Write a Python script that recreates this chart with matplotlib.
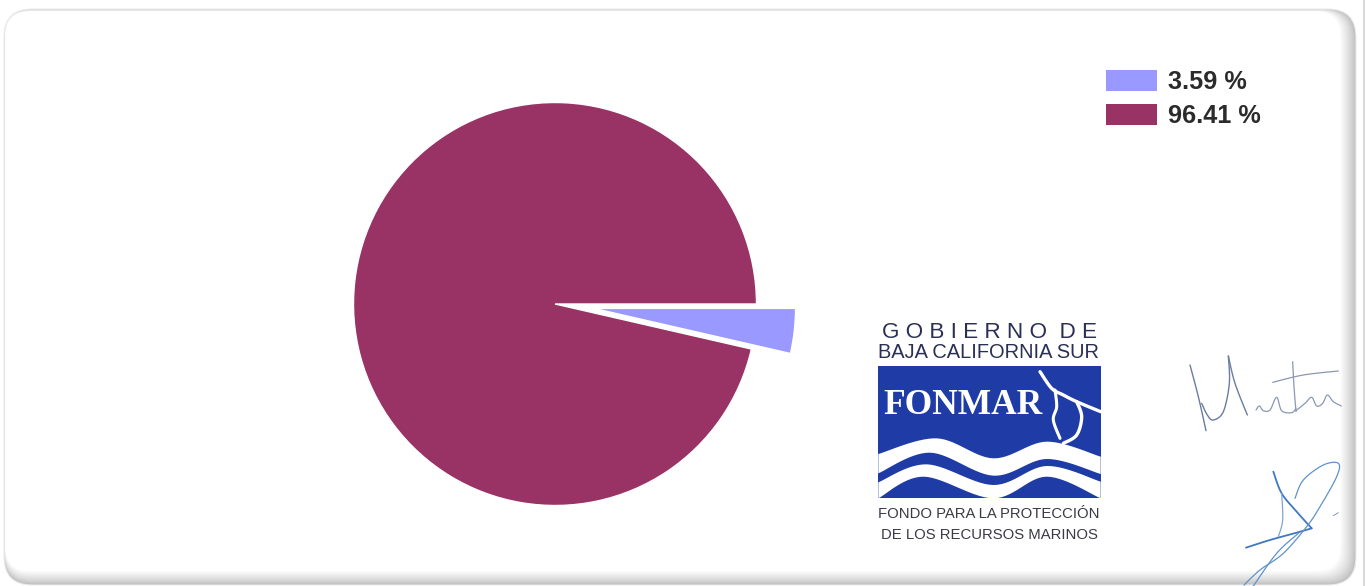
import numpy as np
import matplotlib
matplotlib.use("Agg")
import matplotlib.pyplot as plt
from matplotlib.patches import FancyBboxPatch, Rectangle, Polygon

shares = [3.59, 96.41]
legend_labels = ["3.59 %", "96.41 %"]
colors = ["#9999FF", "#993366"]

W, H = 1365, 586
fig = plt.figure(figsize=(W / 100, H / 100), dpi=100, facecolor="white")

# full-figure overlay in pixel coordinates, for the card and the logo
bg = fig.add_axes([0, 0, 1, 1], zorder=0)
bg.set_xlim(0, W); bg.set_ylim(H, 0); bg.axis("off")


def smooth(pts, n=14):
    p = np.array(pts, float)
    p = np.vstack([p[0], p, p[-1]])
    out = []
    for i in range(1, len(p) - 2):
        t = np.linspace(0, 1, n, endpoint=False)[:, None]
        a, b, c, d = p[i - 1], p[i], p[i + 1], p[i + 2]
        out.append(0.5 * (2 * b + (c - a) * t + (2 * a - 5 * b + 4 * c - d) * t ** 2
                          + (3 * b - a - 3 * c + d) * t ** 3))
    out.append(p[-2][None])
    return np.vstack(out)


# card: soft inner shadow, darkest at the outer right and bottom edges
steps = 16
for k in range(steps + 1):
    f = k / steps
    g = 0.74 + 0.26 * f ** 0.8
    x0, y0 = 4 + 1.5 * f, 9 + 2.5 * f
    x1, y1 = 1356 - 16 * f, 585 - 14 * f
    bg.add_patch(FancyBboxPatch((x0, y0), x1 - x0, y1 - y0,
                                boxstyle="round,pad=0,rounding_size=%g" % (28 - 4 * f),
                                fc=str(min(g, 1)), ec="none", zorder=1 + k))
bg.add_patch(FancyBboxPatch((4, 9), 1352, 576, boxstyle="round,pad=0,rounding_size=28",
                            fc="none", ec="#EDEDED", lw=0.8, zorder=19))
bg.add_patch(Rectangle((1363, 0), 2, H, fc="#D8D8D8", ec="none", zorder=19))


def Z(x, y):
    return 860 + x / 3, 310 + y / 3


# logo
lx0, ly0 = Z(55, 168); lx1, ly1 = Z(722, 565)
bg.add_patch(Rectangle((lx0, ly0), lx1 - lx0, ly1 - ly0, fc="#1F3CA6", ec="none", zorder=21))
bands = [
    ([(55, 432), (230, 385), (400, 445), (560, 395), (722, 440)],
     [(722, 492), (560, 447), (400, 497), (210, 428), (55, 490)]),
    ([(55, 517), (200, 463), (400, 525), (560, 468), (722, 515)],
     [(722, 565), (560, 500), (400, 565), (190, 500), (55, 565)]),
]
for top, bot in bands:
    poly = np.vstack([smooth([Z(*q) for q in top]), smooth([Z(*q) for q in bot])])
    bg.add_patch(Polygon(poly, fc="white", ec="none", zorder=22))
# marlin silhouette in the logo
for stroke, lw in [
    ([(540, 185), (575, 235), (610, 255), (650, 275), (722, 305)], 2.4),
    ([(585, 240), (590, 290), (580, 330), (600, 385)], 2.2),
    ([(650, 275), (665, 320), (650, 375), (610, 400)], 2.4),
]:
    xy = smooth([Z(*q) for q in stroke])
    bg.plot(xy[:, 0], xy[:, 1], color="white", lw=lw, zorder=23, solid_capstyle="round")

txt = dict(color="#2A2F55", zorder=24, ha="center", va="center", family="Liberation Sans")
bg.text(989, 332, "G O B I E R N O  D E", fontsize=16.2, **txt)
bg.text(989, 352, "BAJA CALIFORNIA SUR", fontsize=14.4, **txt)
bg.text(963, 406, "FONMAR", fontsize=25.5, color="white", family="Liberation Serif",
        fontweight="bold", ha="center", va="center", zorder=24)
txt2 = dict(txt, color="#3A3A48")
bg.text(989, 514, "FONDO PARA LA PROTECCIÓN", fontsize=10.7, **txt2)
bg.text(989, 535, "DE LOS RECURSOS MARINOS", fontsize=10.7, **txt2)


def S(x, y):
    return 1170 + x / 3, 340 + y / 3


# signatures
sigs = [
    ("#6A7CA0", 1.0, [(60, 75), (85, 170), (108, 272)]),
    ("#6A7CA0", 1.0, [(95, 190), (112, 225), (130, 240), (160, 215), (178, 130), (175, 48)]),
    ("#6A7CA0", 1.0, [(175, 48), (195, 130), (232, 225)]),
    ("#8A98B4", 0.9, [(258, 210), (268, 198), (280, 212), (300, 210), (320, 172), (335, 212),
                      (365, 218), (378, 205)]),
    ("#8A98B4", 0.9, [(368, 65), (372, 140), (378, 215)]),
    ("#8A98B4", 0.9, [(378, 212), (405, 190), (425, 172), (440, 198), (458, 190), (472, 165),
                      (490, 185), (514, 198)]),
    ("#8A98B4", 0.9, [(308, 127), (400, 105), (505, 93)]),
    ("#3F78C0", 1.3, [(310, 395), (335, 460), (380, 515), (425, 565)]),
    ("#3F78C0", 1.3, [(228, 623), (300, 600), (380, 578), (425, 565)]),
    ("#7FA5D5", 0.9, [(335, 460), (338, 540), (325, 590)]),
    ("#5F92CC", 0.9, [(375, 475), (400, 420), (460, 375), (505, 370), (500, 410), (450, 500),
                      (410, 560), (340, 640), (270, 690), (222, 735)]),
    ("#5F92CC", 0.9, [(385, 580), (320, 640), (250, 738)]),
    ("#8A98B4", 0.7, [(490, 527), (505, 518)]),
]
for c, lw, pts in sigs:
    xy = smooth([S(*q) for q in pts])
    bg.plot(xy[:, 0], xy[:, 1], color=c, lw=lw, zorder=25, solid_capstyle="round")

# pie: data radius 1 = 202 px, centred on (555, 304)
R, cx, cy = 201.5, 555.0, 304.0
span = 1.3
ax = fig.add_axes([(cx - span * R) / W, 1 - (cy + span * R) / H,
                   2 * span * R / W, 2 * span * R / H], zorder=5)
ax.patch.set_alpha(0)
wedges, _ = ax.pie(shares, colors=colors, explode=[0.195, 0], startangle=0, counterclock=False,
                   radius=1, wedgeprops=dict(edgecolor="white", linewidth=1.0))
ax.set_xlim(-span, span); ax.set_ylim(-span, span)

leg = fig.legend(wedges, legend_labels, loc="upper left",
                 bbox_to_anchor=(1098 / W, 1 - 62 / H), frameon=False,
                 prop=dict(family="Liberation Sans", weight="bold", size=18.2),
                 handlelength=2.02, handleheight=0.9, labelspacing=0.39, handletextpad=0.43,
                 borderpad=0.3, borderaxespad=0)
leg.set_zorder(30)
for h in leg.legend_handles:
    h.set_edgecolor("none")
for t in leg.get_texts():
    t.set_color("#2B2B2B")

fig.savefig("out.png", dpi=100, facecolor="white")
